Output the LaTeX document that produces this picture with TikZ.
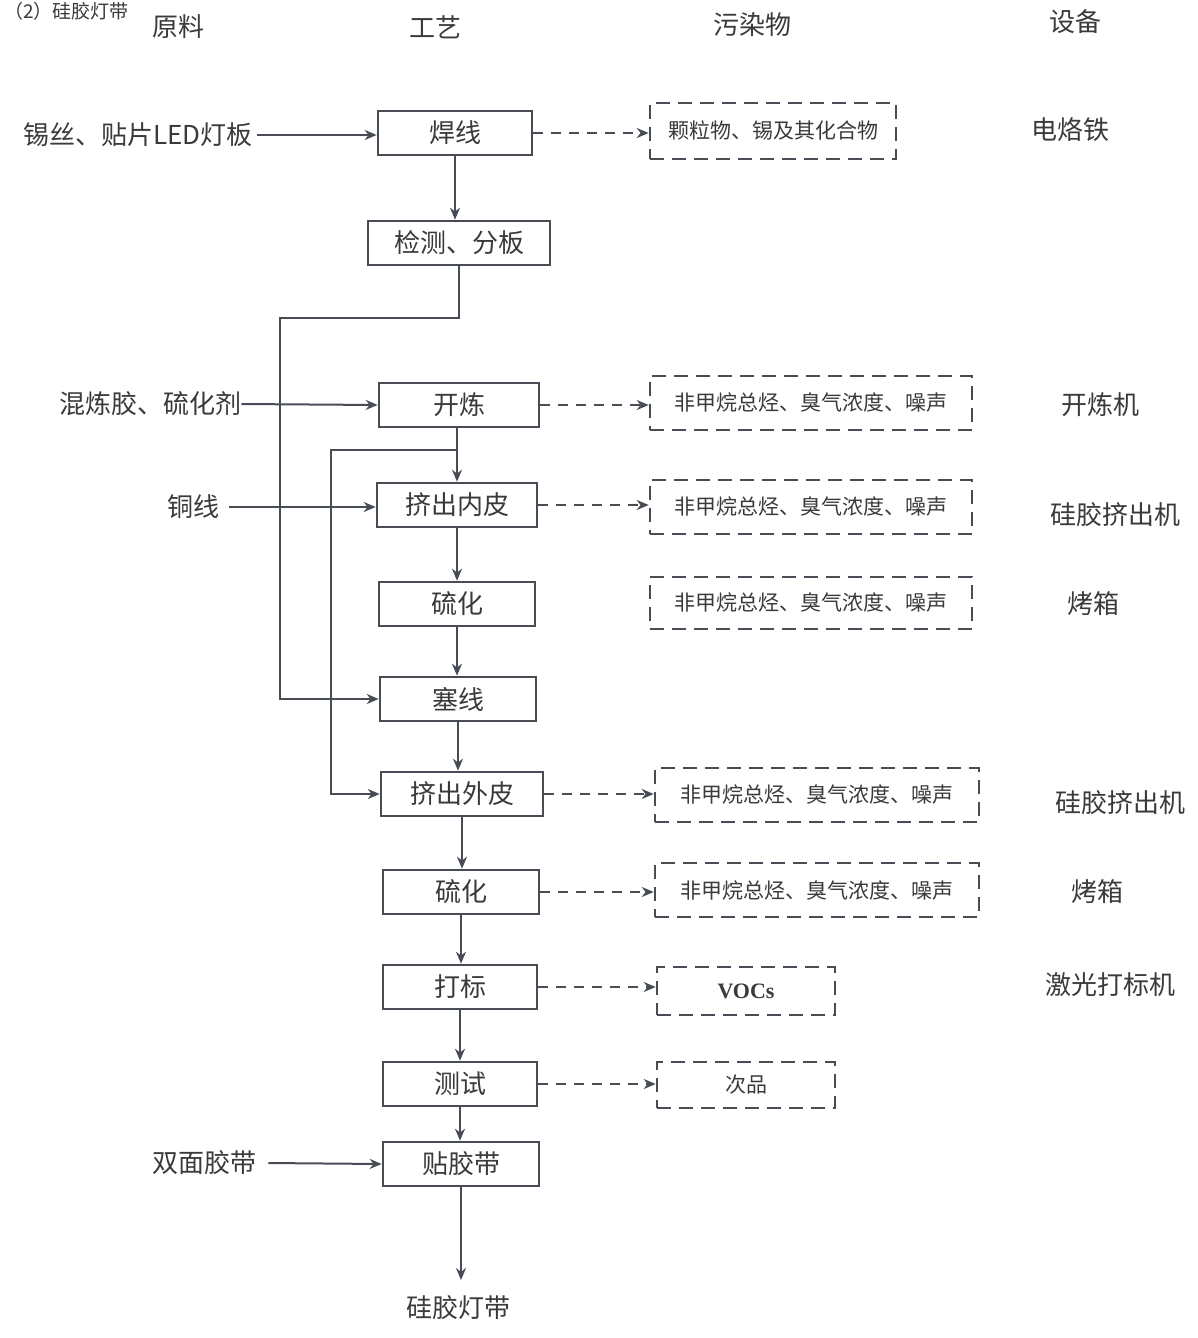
\documentclass[tikz,border=0pt]{standalone}
\usepackage{fontspec}
\setmainfont{Liberation Serif}
\newfontfamily\cjk{Noto Sans CJK SC}
\usetikzlibrary{arrows.meta}
\definecolor{lc}{HTML}{474C55}
\definecolor{tc}{HTML}{3A3A3A}
\begin{document}
\begin{tikzpicture}[x=0.5pt,y=-0.5pt,
  proc/.style={draw=lc, line width=1.3pt, minimum height=22pt, inner sep=0pt, text=tc, font=\cjk\fontsize{13}{14}\selectfont},
  poll/.style={draw=lc, line width=1.3pt, dash pattern=on 7pt off 4pt, inner sep=0pt, text=tc, font=\cjk\fontsize{10.5}{12}\selectfont},
  lbl/.style={text=tc, inner sep=0pt, font=\cjk\fontsize{13}{14}\selectfont},
  arr/.style={draw=lc, line width=1pt, -{Stealth[length=6pt,width=5pt]}},
  darr/.style={draw=lc, line width=1pt, dash pattern=on 5pt off 4pt, -{Stealth[length=6pt,width=5pt]}}]
\useasboundingbox[fill=white] (0,0) rectangle (1198,1338);

% header
\node[lbl, anchor=north west, font=\cjk\fontsize{9.5}{10}\selectfont] (title) at (4,2) {（2）硅胶灯带};
\node[lbl] (h1) at (178,27) {原料};
\node[lbl] (h2) at (435,27) {工艺};
\node[lbl] (h3) at (752,25) {污染物};
\node[lbl] (h4) at (1075,22) {设备};

% process boxes
\node[proc, minimum width=77pt] (hx) at (455,133) {焊线};
\node[proc, minimum width=91pt] (jc) at (459,243) {检测、分板};
\node[proc, minimum width=80pt] (kl) at (459,405) {开炼};
\node[proc, minimum width=80pt] (nb) at (457,505) {挤出内皮};
\node[proc, minimum width=78pt] (lh1) at (457,604) {硫化};
\node[proc, minimum width=78pt] (sx) at (458,699) {塞线};
\node[proc, minimum width=81pt] (wp) at (462,794) {挤出外皮};
\node[proc, minimum width=78pt] (lh2) at (461,892) {硫化};
\node[proc, minimum width=77pt] (db) at (460,987) {打标};
\node[proc, minimum width=77pt] (cs) at (460,1084) {测试};
\node[proc, minimum width=78pt] (tj) at (461,1164) {贴胶带};
\node[lbl] (out) at (458,1308) {硅胶灯带};

% materials
\node[lbl] (m1) at (138,135) {锡丝、贴片LED灯板};
\node[lbl] (m2) at (150,404) {混炼胶、硫化剂};
\node[lbl] (m3) at (193,507) {铜线};
\node[lbl] (m4) at (204,1163) {双面胶带};

% pollutants
\node[poll, minimum width=123pt, minimum height=28pt] (p1) at (773,131) {颗粒物、锡及其化合物};
\node[poll, minimum width=161pt, minimum height=27pt] (p2) at (811,403) {非甲烷总烃、臭气浓度、噪声};
\node[poll, minimum width=161pt, minimum height=27pt] (p3) at (811,507) {非甲烷总烃、臭气浓度、噪声};
\node[poll, minimum width=161pt, minimum height=26pt] (p4) at (811,603) {非甲烷总烃、臭气浓度、噪声};
\node[poll, minimum width=162pt, minimum height=27pt] (p5) at (817,795) {非甲烷总烃、臭气浓度、噪声};
\node[poll, minimum width=162pt, minimum height=27pt] (p6) at (817,890) {非甲烷总烃、臭气浓度、噪声};
\node[poll, minimum width=89pt, minimum height=24pt, font=\bfseries\fontsize{11}{12}\selectfont] (p7) at (746,991) {VOCs};
\node[poll, minimum width=89pt, minimum height=23pt] (p8) at (746,1085) {次品};

% equipment
\node[lbl] (e1) at (1070,130) {电烙铁};
\node[lbl] (e2) at (1100,405) {开炼机};
\node[lbl] (e3) at (1115,515) {硅胶挤出机};
\node[lbl] (e4) at (1093,604) {烤箱};
\node[lbl] (e5) at (1120,803) {硅胶挤出机};
\node[lbl] (e6) at (1097,892) {烤箱};
\node[lbl] (e7) at (1110,985) {激光打标机};

% material inputs
\draw[arr] (m1.east) ++(4,0) -- (hx.west |- m1.east);
\draw[arr] (m2.east) -- (kl.west);
\draw[arr] (m3.east) ++(10,0) -- (nb.west |- m3.east);
\draw[arr] (m4.east) ++(12,0) -- (tj.west);

% main flow
\draw[arr] (hx.south) -- (hx.south |- jc.north);
\coordinate (c1) at (280,318);
\draw[arr] (jc.south) |- (c1) |- (sx.west);
\draw[arr] (kl.south) ++(-2,0) -- (nb.north);
\coordinate (j2) at (457,450);
\coordinate (c2) at (331,450);
\draw[arr] (j2) -- (c2) |- (wp.west);
\draw[arr] (nb.south) -- (lh1.north);
\draw[arr] (lh1.south) -- (lh1.south |- sx.north);
\draw[arr] (sx.south) -- (sx.south |- wp.north);
\draw[arr] (wp.south) -- (wp.south |- lh2.north);
\draw[arr] (lh2.south) -- (lh2.south |- db.north);
\draw[arr] (db.south) -- (cs.north);
\draw[arr] (cs.south) -- (cs.south |- tj.north);
\coordinate (endp) at (461,1280);
\draw[arr] (tj.south) -- (endp);

% pollutant arrows
\draw[darr] (hx.east) -- (p1.west |- hx.east);
\draw[darr] (kl.east) -- (p2.west |- kl.east);
\draw[darr] (nb.east) -- (p3.west |- nb.east);
\draw[darr] (wp.east) -- (p5.west |- wp.east);
\draw[darr] (lh2.east) -- (p6.west |- lh2.east);
\draw[darr] (db.east) -- (p7.west |- db.east);
\draw[darr] (cs.east) -- (p8.west |- cs.east);
\end{tikzpicture}
\end{document}
